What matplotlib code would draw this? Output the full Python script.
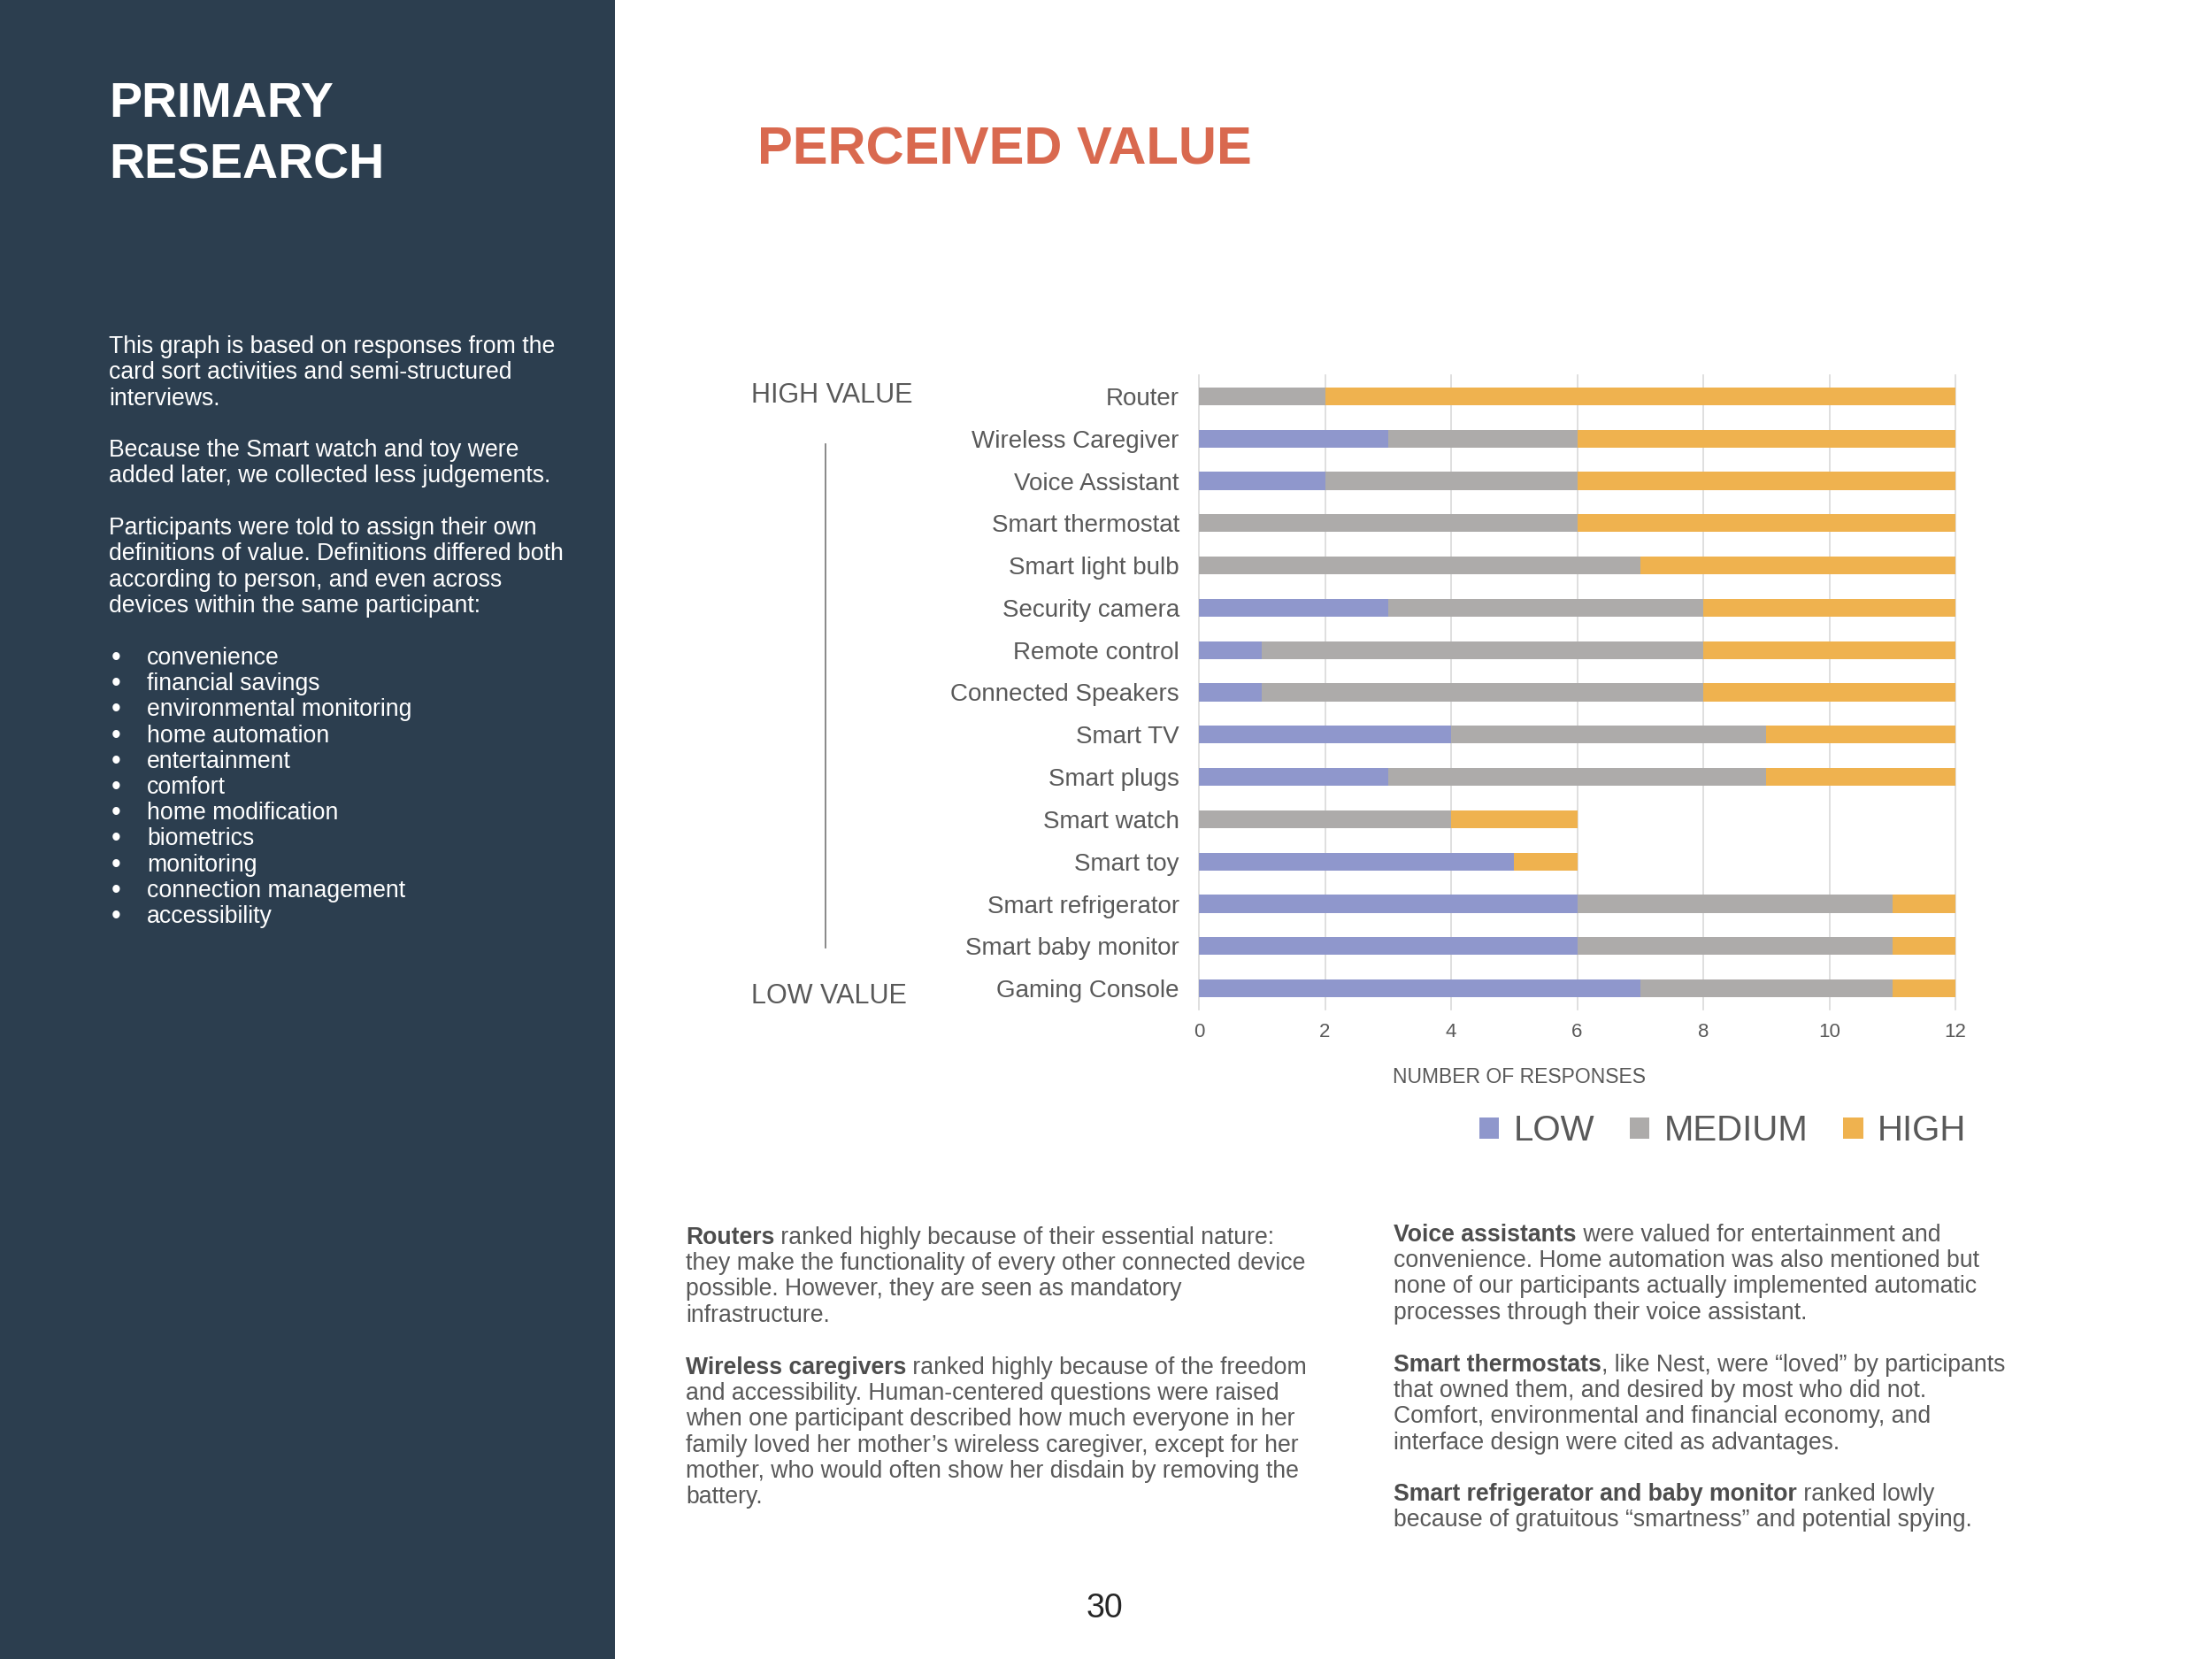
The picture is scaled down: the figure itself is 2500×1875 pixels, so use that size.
import matplotlib
matplotlib.use('Agg')
import matplotlib.pyplot as plt
from matplotlib import font_manager
from matplotlib.patches import Rectangle
from matplotlib.lines import Line2D
from matplotlib.text import Annotation
import numpy as np

# --- chart data ---
devices = ["Router", "Wireless Caregiver", "Voice Assistant", "Smart thermostat",
           "Smart light bulb", "Security camera", "Remote control", "Connected Speakers",
           "Smart TV", "Smart plugs", "Smart watch", "Smart toy", "Smart refrigerator",
           "Smart baby monitor", "Gaming Console"]
low = [0, 3, 2, 0, 0, 3, 1, 1, 4, 3, 0, 5, 6, 6, 7]
medium = [2, 3, 4, 6, 7, 5, 7, 7, 5, 6, 4, 0, 5, 5, 4]
high = [10, 6, 6, 6, 5, 4, 4, 4, 3, 3, 2, 1, 1, 1, 1]
series_names = ["LOW", "MEDIUM", "HIGH"]
x_ticks = [0, 2, 4, 6, 8, 10, 12]

# --- page text ---
side_para1 = ["This graph is based on responses from the",
              "card sort activities and semi-structured",
              "interviews."]
side_para2 = ["Because the Smart watch and toy were",
              "added later, we collected less judgements."]
side_para3 = ["Participants were told to assign their own",
              "definitions of value. Definitions differed both",
              "according to person, and even across",
              "devices within the same participant:"]
value_types = ["convenience", "financial savings", "environmental monitoring",
               "home automation", "entertainment", "comfort", "home modification",
               "biometrics", "monitoring", "connection management", "accessibility"]

notes_left = [
    ("Routers", [" ranked highly because of their essential nature:",
                 "they make the functionality of every other connected device",
                 "possible. However, they are seen as mandatory",
                 "infrastructure."]),
    ("Wireless caregivers", [" ranked highly because of the freedom",
                             "and accessibility. Human-centered questions were raised",
                             "when one participant described how much everyone in her",
                             "family loved her mother\u2019s wireless caregiver, except for her",
                             "mother, who would often show her disdain by removing the",
                             "battery."]),
]
notes_right = [
    ("Voice assistants", [" were valued for entertainment and",
                          "convenience. Home automation was also mentioned but",
                          "none of our participants actually implemented automatic",
                          "processes through their voice assistant."]),
    ("Smart thermostats", [", like Nest, were \u201cloved\u201d by participants",
                           "that owned them, and desired by most who did not.",
                           "Comfort, environmental and financial economy, and",
                           "interface design were cited as advantages."]),
    ("Smart refrigerator and baby monitor", [" ranked lowly",
                                             "because of gratuitous \u201csmartness\u201d and potential spying."]),
]

# --- styles ---
C_LOW, C_MED, C_HIGH = "#8f97cc", "#adabaa", "#efb24f"
PANEL = "#2c3e4f"
TITLE_RED = "#d9694f"
GREY_TXT = "#595959"

names = {f.name for f in font_manager.fontManager.ttflist}
BODY = ['Liberation Sans', 'DejaVu Sans']
NARROW = ['Liberation Sans Narrow', 'Liberation Sans', 'DejaVu Sans'] \
    if 'Liberation Sans Narrow' in names else ['Liberation Sans', 'DejaVu Sans']
plt.rcParams['font.family'] = BODY

W, H = 2500, 1875
fig = plt.figure(figsize=(W / 100, H / 100), dpi=100, facecolor='white')


def fx(px):
    return px / W


def fy(py):
    return 1 - py / H


# dark side panel
fig.patches.append(Rectangle((0, 0), fx(695), 1, transform=fig.transFigure,
                             facecolor=PANEL, edgecolor='none', zorder=0))

fig.text(fx(123), fy(118), "PRIMARY", color='white', fontsize=40, fontweight='bold', va='center')
fig.text(fx(123), fy(188), "RESEARCH", color='white', fontsize=40, fontweight='bold', va='center')


def draw_lines(x, y0, lines, step=29.3, **kw):
    for i, line in enumerate(lines):
        fig.text(fx(x), fy(y0 + i * step), line, va='center', **kw)


side_kw = dict(color='white', fontsize=19.2)
draw_lines(123, 392, side_para1, **side_kw)
draw_lines(123, 509, side_para2, **side_kw)
draw_lines(123, 597, side_para3, **side_kw)
for i, item in enumerate(value_types):
    yy = 744 + i * 29.2
    fig.text(fx(126), fy(yy), "\u2022", va='center', color='white', fontsize=22)
    fig.text(fx(166), fy(yy), item, va='center', **side_kw)

# title
title = fig.text(fx(856), fy(186), "PERCEIVED VALUE", color=TITLE_RED, fontsize=60,
                 fontweight='bold', family=NARROW, va='baseline')
renderer = fig.canvas.get_renderer()
tw = title.get_window_extent(renderer).width
title.set_fontsize(60 * 560 / tw)

# --- the stacked bar chart ---
ax = fig.add_axes([fx(1355), fy(1141), fx(2210) - fx(1355), fy(424) - fy(1141)])
y = np.arange(len(devices))
left = np.zeros(len(devices))
bars = []
for vals, name, col in zip([low, medium, high], series_names, [C_LOW, C_MED, C_HIGH]):
    b = ax.barh(y, vals, left=left, height=0.42, color=col, label=name, zorder=2)
    bars.append(b)
    left += np.array(vals)

ax.set_xlim(0, 12)
ax.set_ylim(len(devices) - 0.5, -0.5)
ax.set_xticks(x_ticks)
ax.set_yticks(y)
ax.set_yticklabels(devices, fontsize=20, color=GREY_TXT)
ax.tick_params(axis='y', length=0, pad=16)
ax.tick_params(axis='x', length=0, pad=11, labelsize=16, labelcolor=GREY_TXT)
ax.grid(axis='x', color='#d9d9d9', lw=1.2, zorder=0)
ax.set_axisbelow(True)
for gl in ax.get_xgridlines():
    gl.set_clip_on(False)
for s in ax.spines.values():
    s.set_visible(False)

fig.text(fx(1717), fy(1218), "NUMBER OF RESPONSES", ha='center', va='center',
         fontsize=16.5, color=GREY_TXT, family=NARROW)

fig.legend(handles=bars, labels=series_names, loc='center left',
           bbox_to_anchor=(fx(1672), fy(1278)), ncol=3, frameon=False,
           fontsize=29, labelcolor=GREY_TXT, handlelength=0.55, handleheight=0.55,
           handletextpad=0.4, columnspacing=1.0, borderpad=0, borderaxespad=0)

# high / low scale markers
fig.text(fx(849), fy(447), "HIGH VALUE", fontsize=22, color=GREY_TXT, va='center')
fig.text(fx(849), fy(1126), "LOW VALUE", fontsize=22, color=GREY_TXT, va='center')
fig.add_artist(Line2D([fx(933), fx(933)], [fy(502), fy(1071)], color='#7f7f7f',
                      lw=1.3, transform=fig.transFigure))


# --- notes under the chart ---
def bold_lead(x, y0, bold, lines, step=29.2):
    t = fig.text(fx(x), fy(y0), bold, fontweight='bold', color='#4d4d4d',
                 fontsize=19.2, va='center')
    fig.add_artist(Annotation(lines[0], xy=(1, 0), xycoords=t, va='bottom', ha='left',
                              fontsize=19.2, color=GREY_TXT))
    draw_lines(x, y0 + step, lines[1:], step=step, fontsize=19.2, color=GREY_TXT)


bold_lead(775, 1399, *notes_left[0])
bold_lead(775, 1546, *notes_left[1])
bold_lead(1575, 1396, *notes_right[0])
bold_lead(1575, 1543, *notes_right[1])
bold_lead(1575, 1689, *notes_right[2])

fig.text(fx(1248), fy(1818), "30", ha='center', va='center', fontsize=27, color='#262626')

fig.savefig('out.png', dpi=100, facecolor='white')
